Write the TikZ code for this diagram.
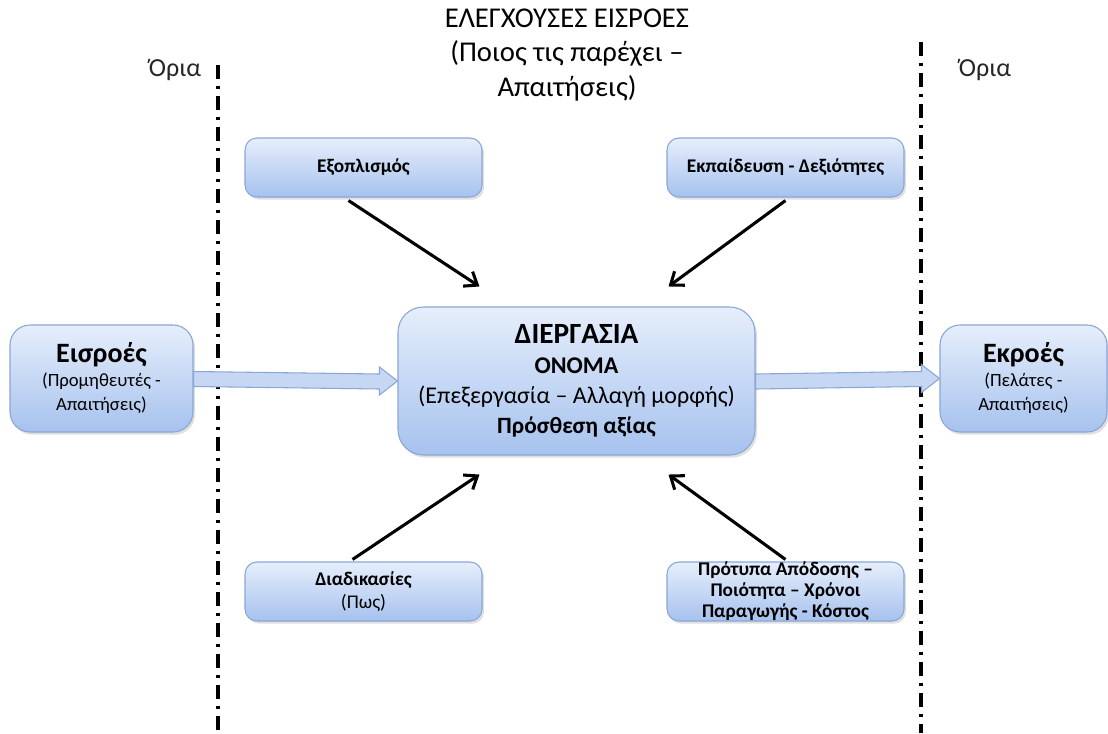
\documentclass[tikz,border=0pt]{standalone}
\usepackage{fontspec}
\setmainfont{Carlito}
\usepackage{xcolor}
\usepackage{tikz}
\usetikzlibrary{arrows.meta,calc,shadows}

\definecolor{boxtop}{HTML}{E6EEFB}
\definecolor{boxbot}{HTML}{A6C2EE}
\definecolor{boxline}{HTML}{8AA6D6}
\definecolor{shaft}{HTML}{C5D7F3}

\newcommand{\bigfs}{\fontsize{21}{24}\selectfont}
\newcommand{\smallfs}{\fontsize{14}{18}\selectfont}

\begin{document}
\begin{tikzpicture}
      [ x=0.75pt, y=-0.75pt,
        procbox/.style={draw=boxline, line width=0.8pt, top color=boxtop, bottom color=boxbot,
                        drop shadow={opacity=0.25, shadow xshift=1.5pt, shadow yshift=-2pt},
                        align=center, inner sep=1pt},
        smallbox/.style={procbox, rounded corners=9pt, minimum width=177.75pt, minimum height=44.25pt,
                         font=\fontsize{14.5}{17}\selectfont\bfseries},
        sidebox/.style={procbox, rounded corners=15pt, minimum height=80.25pt},
        boundary/.style={line width=3pt, dash pattern=on 10.5pt off 5.25pt on 2.25pt off 5.25pt},
        feed/.style={line width=2.3pt, -{Straight Barb[length=8.5pt,width=13pt,line width=2.3pt]}},
        flow/.style={draw=boxline, line width=0.8pt, fill=shaft}
      ]
      \useasboundingbox (0,0) rectangle (1108,733);

      % title
      \node (title) at (567,55) [align=center, font=\fontsize{21.5}{26}\selectfont]
            {ΕΛΕΓΧΟΥΣΕΣ ΕΙΣΡΟΕΣ\\(Ποιος τις παρέχει –\\Απαιτήσεις)};
      \node (limL) at (175,70) [font=\fontsize{19.5}{22}\selectfont, text=black!85] {Όρια};
      \node (limR) at (985,70) [font=\fontsize{19.5}{22}\selectfont, text=black!85] {Όρια};

      % boundaries
      \coordinate (bLtop) at (218,65);  \coordinate (bLbot) at (218,733);
      \coordinate (bRtop) at (921,42);  \coordinate (bRbot) at (921,733);
      \draw[boundary] (bLtop) -- (bLbot);
      \draw[boundary] (bRtop) -- (bRbot);

      % nodes
      \node[procbox, rounded corners=19pt, minimum width=267.75pt, minimum height=111pt,
            font=\fontsize{18}{22.5}\selectfont]
            (proc) at (576.5,381)
            {\rule{0pt}{8pt}{\fontsize{22}{22}\selectfont\bfseries ΔΙΕΡΓΑΣΙΑ}\\
             \bfseries ΟΝΟΜΑ\\
             (Επεξεργασία – Αλλαγή μορφής)\\
             \fontsize{17.5}{21.5}\selectfont\bfseries Πρόσθεση αξίας};
      \node[sidebox, minimum width=137.25pt, font=\smallfs] (inputs) at (101.5,378.5)
            {\bigfs\bfseries Εισροές\\
             (Προμηθευτές -\\Απαιτήσεις)};
      \node[sidebox, minimum width=125.25pt, font=\smallfs] (outputs) at (1023.5,378.5)
            {\bigfs\bfseries Εκροές\\
             (Πελάτες -\\Απαιτήσεις)};
      \node[smallbox] (equip) at (363.5,167.5) {Εξοπλισμός};
      \node[smallbox] (skill) at (785.5,167.5) {Εκπαίδευση - Δεξιότητες};
      \node[smallbox] (proced) at (363.5,591.5) {Διαδικασίες\\\mdseries(Πως)};
      \node[smallbox, inner sep=0pt, font=\fontsize{14.5}{15.8}\selectfont\bfseries] (perf) at (785.5,591.5)
            {Πρότυπα Απόδοσης –\\Ποιότητα – Χρόνοι\\Παραγωγής - Κόστος};

      % controlling inputs
      \draw[feed] ($(equip.south)+(-15,3)$)   -- ($(proc.north west)+(82,-20)$);
      \draw[feed] ($(skill.south)+(0,3)$)     -- ($(proc.north east)+(-87,-20)$);
      \draw[feed] ($(proced.north)+(-11,-2)$) -- ($(proc.south west)+(82,19)$);
      \draw[feed] ($(perf.north)+(0,-2)$)     -- ($(proc.south east)+(-87,19)$);

      % flow in and out
      \draw[flow] ($(inputs.east)+(0,-7)$) -- ($(proc.west)+(-18,-7)$) -- ($(proc.west)+(-18,-14)$)
            -- (proc.west) -- ($(proc.west)+(-18,14)$) -- ($(proc.west)+(-18,8)$)
            -- ($(inputs.east)+(0,8)$) -- cycle;
      \draw[flow] ($(proc.east)+(0,-7)$) -- ($(outputs.west)+(-18,-7)$) -- ($(outputs.west)+(-18,-14)$)
            -- (outputs.west) -- ($(outputs.west)+(-18,14)$) -- ($(outputs.west)+(-18,8)$)
            -- ($(proc.east)+(0,8)$) -- cycle;
\end{tikzpicture}
\end{document}
